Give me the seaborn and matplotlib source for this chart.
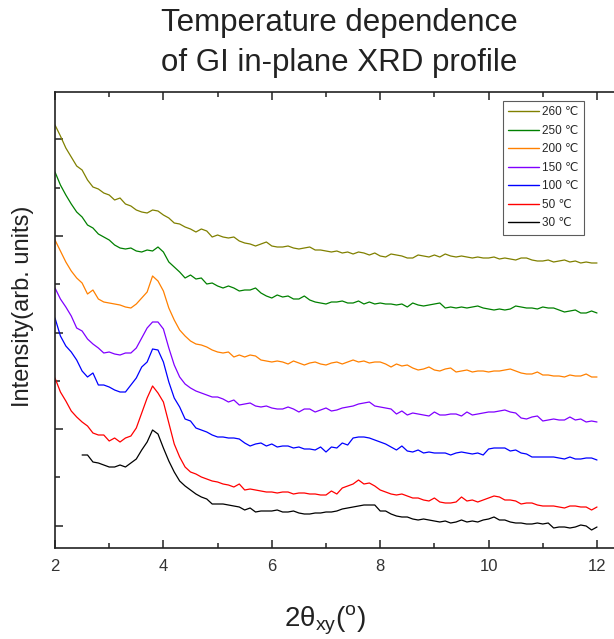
import numpy as np
import pandas as pd
import matplotlib
matplotlib.use('Agg')
import matplotlib.pyplot as plt
from matplotlib.ticker import MultipleLocator
import seaborn as sns

# ── Data: GI in-plane XRD profiles, offset vertically (arb. units) ─────────────
# x grid: 2θxy from 2.0 to 12.0 deg in 0.1 deg steps (30 °C scan starts at 2.5)
i_260 = [449, 438, 426, 417, 408, 404, 394, 387, 385, 381, 379, 374, 376, 370, 368, 364, 362, 361, 364, 363,
         359, 356, 351, 350, 347, 345, 342, 345, 343, 337, 339, 337, 336, 337, 333, 331, 330, 328, 330, 332,
         328, 327, 327, 328, 326, 325, 326, 327, 324, 324, 323, 322, 323, 321, 322, 320, 322, 321, 319, 321,
         318, 317, 320, 319, 318, 316, 316, 319, 318, 317, 319, 317, 320, 318, 317, 318, 317, 316, 317, 316,
         316, 317, 315, 316, 315, 314, 316, 316, 314, 313, 313, 314, 312, 313, 314, 312, 313, 311, 312, 311,
         311]
i_250 = [402, 389, 379, 370, 362, 357, 349, 346, 340, 337, 334, 329, 326, 325, 326, 323, 322, 324, 323, 327,
         322, 312, 307, 302, 296, 299, 295, 296, 290, 291, 288, 286, 288, 286, 283, 284, 284, 286, 281, 278,
         276, 279, 277, 278, 275, 275, 278, 274, 272, 271, 270, 272, 272, 273, 271, 271, 273, 270, 272, 270,
         271, 270, 270, 269, 270, 267, 271, 269, 268, 269, 270, 271, 266, 267, 266, 267, 266, 267, 268, 266,
         265, 264, 265, 264, 265, 268, 267, 266, 266, 265, 267, 266, 266, 264, 262, 263, 264, 261, 261, 263,
         261]
i_200 = [334, 323, 312, 303, 296, 291, 280, 284, 275, 272, 271, 270, 269, 267, 266, 270, 276, 282, 298, 293,
         283, 266, 254, 244, 238, 233, 230, 229, 227, 224, 222, 221, 222, 217, 219, 217, 219, 218, 214, 213,
         212, 213, 212, 210, 213, 211, 209, 211, 212, 210, 209, 211, 212, 210, 212, 214, 212, 213, 211, 212,
         212, 210, 207, 210, 208, 209, 206, 204, 205, 207, 204, 203, 205, 206, 202, 203, 204, 202, 203, 203,
         202, 203, 203, 204, 205, 203, 201, 200, 200, 202, 199, 199, 198, 198, 197, 199, 198, 198, 200, 197,
         197]
i_150 = [286, 275, 267, 258, 246, 243, 235, 230, 226, 221, 222, 220, 219, 221, 221, 226, 236, 246, 252, 252,
         245, 226, 209, 197, 190, 186, 183, 181, 179, 177, 177, 175, 172, 174, 169, 170, 171, 168, 167, 168,
         166, 165, 165, 167, 165, 162, 165, 165, 162, 164, 166, 163, 164, 166, 167, 168, 170, 171, 172, 168,
         167, 166, 165, 160, 163, 159, 161, 160, 159, 158, 162, 159, 159, 160, 160, 158, 162, 159, 160, 161,
         162, 162, 163, 164, 162, 161, 156, 155, 157, 158, 153, 154, 155, 154, 154, 157, 154, 155, 152, 153,
         152]
i_100 = [256, 238, 228, 222, 214, 203, 197, 201, 189, 189, 187, 184, 182, 182, 189, 196, 207, 212, 225, 224,
         212, 192, 176, 167, 155, 153, 146, 144, 142, 139, 137, 137, 136, 136, 135, 131, 128, 130, 131, 128,
         130, 127, 128, 128, 126, 127, 125, 125, 124, 127, 122, 127, 126, 131, 129, 136, 137, 137, 136, 134,
         132, 130, 127, 124, 128, 123, 122, 124, 121, 122, 121, 121, 121, 119, 121, 122, 121, 120, 121, 119,
         125, 126, 126, 126, 123, 124, 121, 120, 117, 117, 117, 117, 117, 116, 115, 117, 115, 115, 116, 116,
         114]
i_50 = [196, 182, 173, 163, 157, 152, 148, 141, 139, 139, 133, 136, 132, 136, 138, 146, 161, 176, 188, 181,
        172, 151, 130, 117, 107, 102, 100, 97, 95, 93, 92, 90, 89, 87, 90, 84, 85, 84, 83, 82,
        82, 81, 82, 82, 80, 81, 81, 80, 80, 79, 79, 83, 80, 86, 88, 90, 94, 90, 91, 88,
        84, 82, 80, 79, 80, 78, 76, 76, 74, 73, 76, 72, 71, 71, 72, 77, 73, 74, 72, 74,
        76, 78, 77, 74, 74, 73, 70, 71, 71, 69, 68, 68, 68, 67, 66, 68, 68, 67, 67, 64,
        67]
i_30 = [119, 119, 112, 111, 109, 107, 107, 109, 107, 111, 115, 124, 132, 144, 140, 126, 113, 102, 93, 88,
        84, 80, 77, 75, 70, 70, 70, 69, 68, 67, 64, 66, 62, 63, 63, 63, 64, 62, 62, 63,
        61, 60, 60, 61, 61, 62, 62, 63, 65, 66, 67, 68, 69, 69, 69, 63, 63, 60, 58, 57,
        57, 55, 54, 55, 54, 53, 52, 53, 51, 52, 54, 52, 53, 52, 54, 55, 57, 54, 54, 52,
        51, 51, 50, 50, 51, 50, 51, 46, 47, 47, 46, 47, 49, 48, 44, 47]

labels = ['260 ℃', '250 ℃', '200 ℃', '150 ℃', '100 ℃', '50 ℃', '30 ℃']
colors = ['#808000', '#008000', '#FF8000', '#8000FF', '#0000FF', '#FF0000', '#000000']
series = [i_260, i_250, i_200, i_150, i_100, i_50, i_30]
x_start = [2.0, 2.0, 2.0, 2.0, 2.0, 2.0, 2.5]

frames = []
for lab, x0, vals in zip(labels, x_start, series):
    x = np.round(np.linspace(x0, 12.0, len(vals)), 2)
    frames.append(pd.DataFrame({'two_theta': x, 'intensity': vals, 'temp': lab}))
df = pd.concat(frames, ignore_index=True)

# ── Style ──────────────────────────────────────────────────────────────────────
sns.set_theme(style='ticks')
plt.rcParams['font.family'] = ['Liberation Sans', 'DejaVu Sans']
plt.rcParams['mathtext.fontset'] = 'custom'
plt.rcParams['mathtext.rm'] = 'Liberation Sans'
plt.rcParams['mathtext.it'] = 'Liberation Sans'

fig = plt.figure(figsize=(6.14, 6.39), dpi=100)
ax = fig.add_axes([55 / 614, 1 - 548 / 639, 559 / 614, 456 / 639])

sns.lineplot(data=df, x='two_theta', y='intensity', hue='temp', hue_order=labels,
             palette=colors, estimator=None, sort=False, linewidth=0.9, ax=ax)

ax.set_xlim(2, 2 + 559 / 54.2)
ax.set_ylim(26, 482)
ax.xaxis.set_major_locator(MultipleLocator(2))
ax.xaxis.set_minor_locator(MultipleLocator(1))
ax.yaxis.set_major_locator(MultipleLocator(96.6, offset=48.3))
ax.yaxis.set_minor_locator(MultipleLocator(48.3))
ax.set_yticklabels([])
ax.tick_params(which='both', direction='in', top=True, right=False, width=1.1, colors='#222222')
ax.tick_params(which='major', length=6)
ax.tick_params(which='minor', length=3.5)
ax.tick_params(axis='x', labelsize=12, pad=8, labelcolor='#333333')
for side in ['left', 'bottom', 'top']:
    ax.spines[side].set_linewidth(1.2)
    ax.spines[side].set_color('#222222')
ax.spines['right'].set_visible(False)

ax.set_xlabel(r'2θ$_{\mathregular{xy}}$($^{\mathregular{o}}$)', fontsize=20, color='#222222')
ax.xaxis.set_label_coords((325 - 55) / 559, -0.122)
ax.set_ylabel('Intensity(arb. units)', fontsize=17, color='#222222')
ax.yaxis.set_label_coords(-0.038, 0.53)

fig.text(339 / 614, 1 - 43 / 639, 'Temperature dependence\nof GI in-plane XRD profile',
         ha='center', va='center', fontsize=22.5, linespacing=1.45, color='#222222')

leg = ax.legend(loc='upper right', bbox_to_anchor=((584 - 55) / 559, (548 - 101) / 456),
                borderaxespad=0, fontsize=8.5, frameon=True, fancybox=False,
                handlelength=2.6, handletextpad=0.3, labelspacing=0.55, borderpad=0.45)
leg.get_frame().set_edgecolor('#333333')
leg.get_frame().set_linewidth(0.8)
for line in leg.get_lines():
    line.set_linewidth(1.0)

plt.savefig('out.png', dpi=100)
plt.close()
